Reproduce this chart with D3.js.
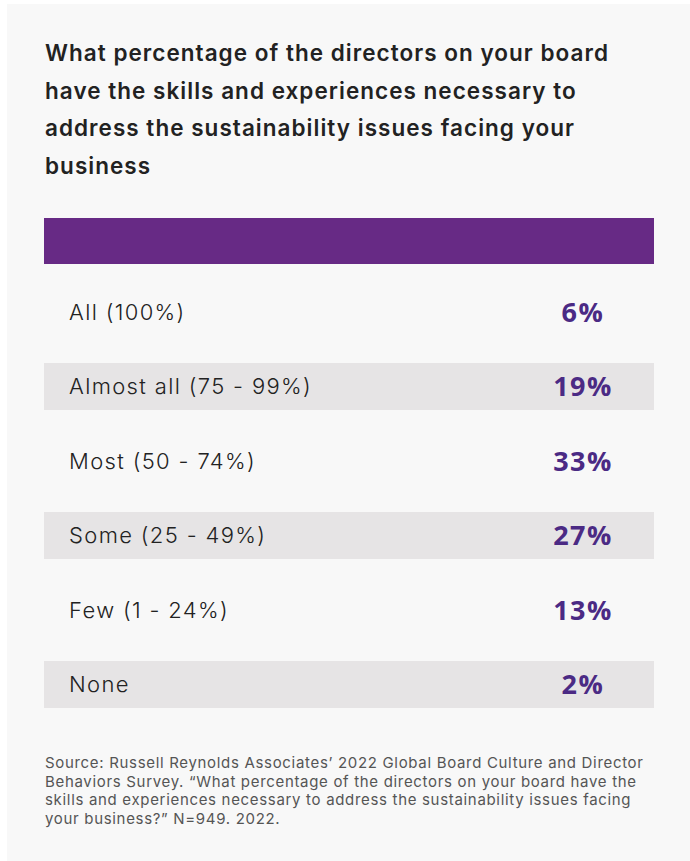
<!DOCTYPE html>
<html>
<head>
<meta charset="utf-8">
<script src="https://cdn.jsdelivr.net/npm/d3@7"></script>
<style>
  html, body { margin: 0; padding: 0; background: #ffffff; }
  svg { display: block; }
</style>
</head>
<body>
<svg id="chart"></svg>
<script>
"use strict";

// данные
var categories = ["All (100%)", "Almost all (75 - 99%)", "Most (50 - 74%)", "Some (25 - 49%)", "Few (1 - 24%)", "None"];
var shares = [6, 19, 33, 27, 13, 2];
var titleLines = [
    "What percentage of the directors on your board",
    "have the skills and experiences necessary to",
    "address the sustainability issues facing your",
    "business"
];
var sourceLines = [
    "Source: Russell Reynolds Associates\u2019 2022 Global Board Culture and Director",
    "Behaviors Survey. \u201CWhat percentage of the directors on your board have the",
    "skills and experiences necessary to address the sustainability issues facing",
    "your business?\u201D N=949. 2022."
];

var iWidth = 690, iHeight = 861;
var sPurple = "#672a85";
var sValue = "#4b2a84";
var sBand = "#e6e4e5";

var svg = d3.select("#chart")
    .attr("width", iWidth)
    .attr("height", iHeight);

// фон панели
svg.append("rect")
    .attr("x", 7).attr("y", 4)
    .attr("width", iWidth - 7).attr("height", iHeight - 4)
    .attr("fill", "#f8f8f8");

// заголовок
svg.append("g").selectAll("text")
    .data(titleLines)
    .join("text")
    .attr("x", 45)
    .attr("y", (d, i) => 61 + i * 37.5)
    .attr("font-family", "Inter, 'DejaVu Sans', sans-serif")
    .attr("font-weight", 600)
    .attr("font-size", 22.5)
    .attr("letter-spacing", 1.03)
    .attr("fill", "#222")
    .text(d => d);

// шапка таблицы
var xLeft = 44, xRight = 654;
svg.append("rect")
    .attr("x", xLeft).attr("y", 218)
    .attr("width", xRight - xLeft).attr("height", 46)
    .attr("fill", sPurple);

// шкала строк
var yScale = d3.scaleBand()
    .domain(categories)
    .range([274.75, 721.75]);

var rows = svg.append("g").selectAll("g")
    .data(categories)
    .join("g")
    .attr("transform", d => `translate(0, ${yScale(d) + yScale.bandwidth() / 2})`);

rows.filter((d, i) => i % 2 === 1)
    .append("rect")
    .attr("x", xLeft).attr("y", -23.5)
    .attr("width", xRight - xLeft).attr("height", 47)
    .attr("fill", sBand);

rows.append("text")
    .attr("x", 69)
    .attr("dy", "0.36em")
    .attr("font-family", "Inter, 'DejaVu Sans', sans-serif")
    .attr("font-weight", 300)
    .attr("font-size", 22)
    .attr("letter-spacing", 1.35)
    .attr("fill", "#222")
    .text(d => d);

rows.append("text")
    .attr("x", 583)
    .attr("dy", "0.36em")
    .attr("text-anchor", "middle")
    .attr("font-family", "'Open Sans', sans-serif")
    .attr("font-weight", 700)
    .attr("font-size", 27)
    .attr("letter-spacing", 1.5)
    .attr("fill", sValue)
    .text((d, i) => shares[i] + "%");

// источник
svg.append("g").selectAll("text")
    .data(sourceLines)
    .join("text")
    .attr("x", 45)
    .attr("y", (d, i) => 768 + i * 18.7)
    .attr("font-family", "Inter, 'DejaVu Sans', sans-serif")
    .attr("font-size", 15)
    .attr("letter-spacing", 0.68)
    .attr("fill", "#555")
    .text(d => d);
</script>
</body>
</html>
